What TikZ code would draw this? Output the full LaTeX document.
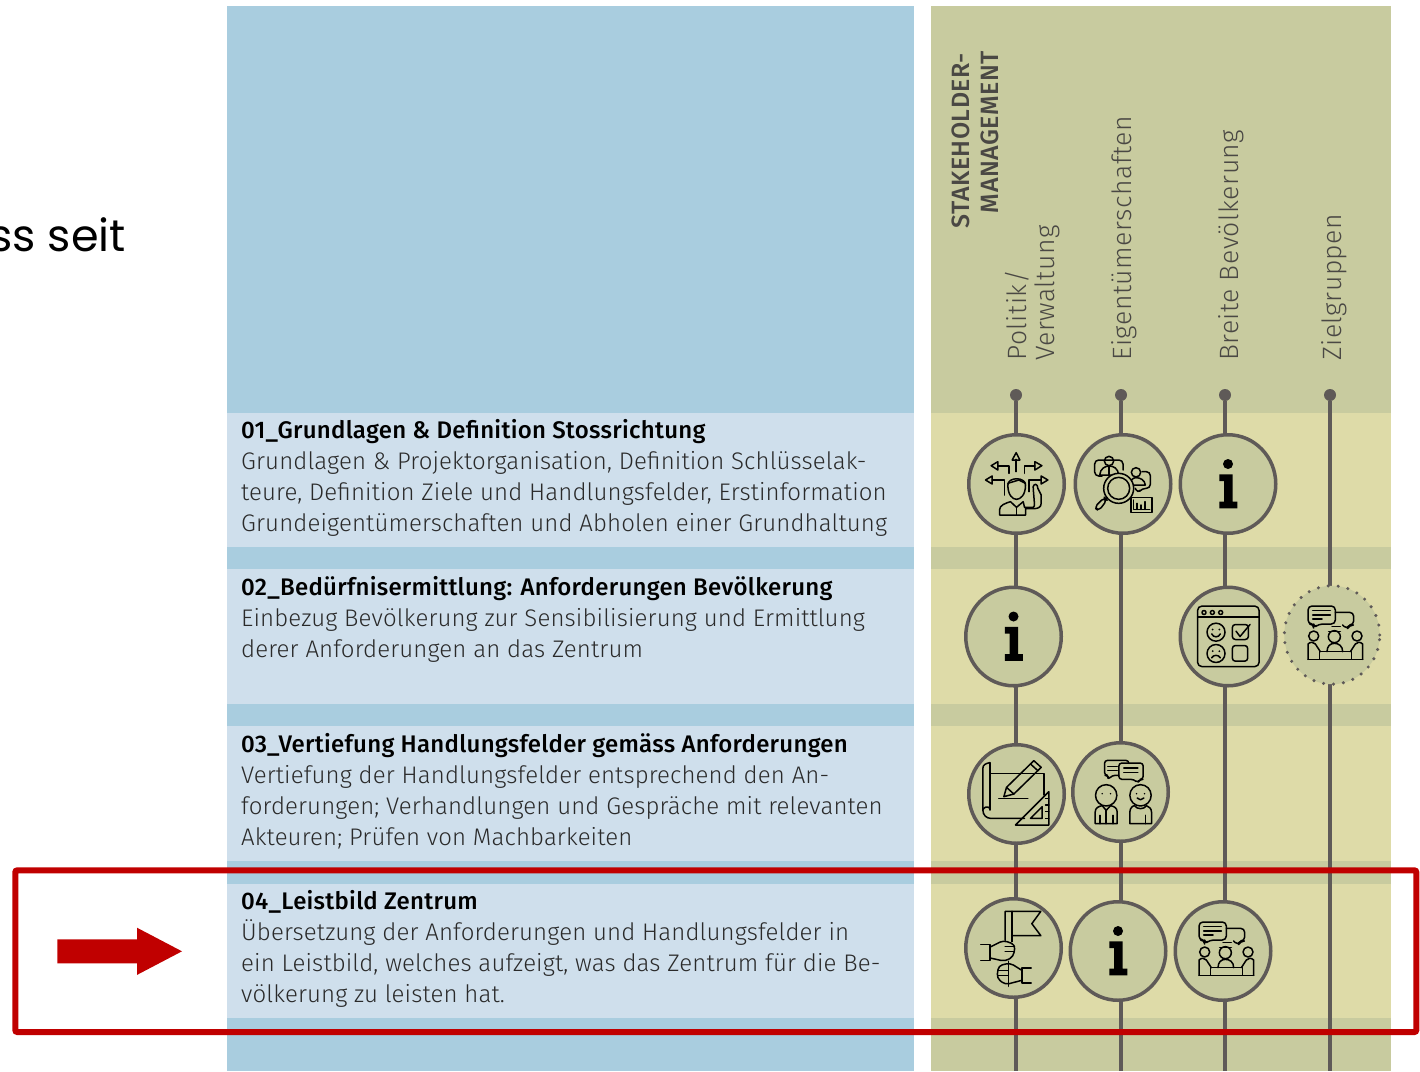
\documentclass[tikz,border=0pt]{standalone}
\usepackage{fontspec}
\usetikzlibrary{shapes.geometric}
\setmainfont{Fira Sans}[UprightFont=* Light,BoldFont=* Medium,LetterSpace=0.55]
\newfontfamily\headfont{Fira Sans}[UprightFont=* Medium,LetterSpace=1.1]
\newfontfamily\vfont{Fira Sans}[UprightFont=* Light,LetterSpace=2]
\newfontfamily\vheadfont{Fira Sans}[UprightFont=* Medium,LetterSpace=2]
\newfontfamily\seitfont{Poppins}
\definecolor{skyband}{HTML}{A9CDDF}
\definecolor{skylight}{HTML}{CFDFEC}
\definecolor{oliveband}{HTML}{C8CB9F}
\definecolor{olivelight}{HTML}{DEDBA8}
\definecolor{linegrey}{HTML}{5F5A58}
\definecolor{alertred}{HTML}{C00000}
\definecolor{txt}{HTML}{2A2A2A}
\definecolor{vgrey}{HTML}{4A4844}
\tikzset{
 x=1pt,y=-1pt,
 bodytxt/.style={anchor=base west,inner sep=0pt,font=\fontsize{24}{24}\selectfont,text=txt},
 headtxt/.style={anchor=base west,inner sep=0pt,font=\headfont\fontsize{24}{24}\selectfont,text=black},
 vtxt/.style={anchor=base west,inner sep=0pt,rotate=90,font=\vfont\fontsize{26.5}{26.5}\selectfont,text=vgrey},
 vhead/.style={anchor=base east,inner sep=0pt,rotate=90,font=\vheadfont\fontsize{25}{25}\selectfont,text=vgrey},
 vline/.style={draw=linegrey,line width=3.3pt},
 enddot/.style={circle,fill=linegrey,minimum size=12pt,inner sep=0pt},
 stake/.style={ellipse,draw=linegrey,line width=3.5pt,fill=oliveband,minimum width=95.5pt,minimum height=98.5pt,inner sep=0pt},
 stakedot/.style={ellipse,draw=linegrey,line width=3.4pt,line cap=round,dash pattern=on 0pt off 10pt,fill=oliveband,minimum width=95.5pt,minimum height=98.5pt,inner sep=0pt},
 ic/.style={draw=black,line width=1.5pt,line join=round,line cap=round},
 pics/infoicon/.style={code={
  \begin{scope}[x=.3333pt,y=-.3333pt,shift={(-834,-192)}]
   \fill[black] (834,132) circle (15);
   \fill[black] (808,163)--(848,163)--(848,245)--(862,245)--(862,265)--(808,265)--(808,245)--(822,245)--(822,183)--(808,183)--cycle;
  \end{scope}}},
 pics/choiceicon/.style={code={
  \begin{scope}[x=.3333pt,y=-.3333pt,shift={(-198,-192)},ic]
   \draw (197,155)--(197,118); \draw (185,120)--(208,120)--(197,98)--cycle;
   \draw (175,160)--(175,138)--(142,138); \draw (142,125)--(142,150)--(122,137)--cycle;
   \draw (222,160)--(222,138)--(253,138); \draw (253,125)--(253,150)--(274,137)--cycle;
   \draw (162,225)--(162,180)--(125,180); \draw (125,168)--(125,192)--(105,180)--cycle;
   \draw (235,215)--(235,180)--(272,180); \draw (272,168)--(272,192)--(292,180)--cycle;
   \draw (172,195) .. controls (172,170) and (225,170) .. (225,195) .. controls (225,225) and (210,238) .. (198,238) .. controls (186,238) and (172,225) .. (172,195);
   \draw (172,190)--(205,180)--(225,190);
   \draw (147,285)--(147,270) .. controls (147,255) and (165,250) .. (180,245)--(198,262)--(218,245)--(222,262)--(248,262) .. controls (255,262) and (250,240) .. (248,200) .. controls (250,190) and (262,190) .. (262,205) -- (272,225)--(272,250) .. controls (272,262) and (262,266) .. (250,266)--(225,266)--(225,285)--cycle;
   \draw (198,262)--(198,285);
  \end{scope}}},
 pics/searchicon/.style={code={
  \begin{scope}[x=.3333pt,y=-.3333pt,shift={(-518,-192)},ic]
   \draw[rounded corners=4pt] (455,168)--(433,168)--(433,120)--(518,120)--(518,150);
   \draw (476,123) circle (14);
   \draw (448,165) .. controls (450,145) and (465,138) .. (476,138) .. controls (490,138) and (503,145) .. (505,165)--cycle;
   \draw (476,140)--(476,165);
   \draw[rounded corners=4pt] (575,155)--(600,155)--(600,205)--(575,205)--(562,220)--(555,205);
   \draw (557,157) circle (14);
   \draw (538,195) .. controls (540,180) and (548,173) .. (557,173) .. controls (570,173) and (583,180) .. (585,195)--cycle;
   \fill[oliveband] (505,205) circle (45);
   \draw (505,205) circle (45);
   \draw (505,205) circle (33);
   \draw (470,232)--(462,240);
   \draw[rounded corners=4pt] (462,232)--(470,240)--(445,273)--(432,262)--cycle;
   \draw (542,232) rectangle (605,277);
   \draw (550,240)--(550,268)--(598,268);
   \draw (560,268)--(560,250) (572,268)--(572,255) (584,268)--(584,245);
  \end{scope}}},
 pics/feedbackicon/.style={code={
  \begin{scope}[x=.3333pt,y=-.3333pt,shift={(-834,-648)},ic]
   \draw[rounded corners=4pt] (743,557) rectangle (927,738);
   \draw (743,590)--(927,590);
   \draw (762,576) circle (6) (787,576) circle (6) (812,576) circle (6);
   \draw (798,635) circle (27);
   \draw (785,640) .. controls (790,652) and (806,652) .. (811,640);
   \fill (788,627) circle (3) (808,627) circle (3);
   \draw[rounded corners=3pt] (847,612) rectangle (895,657);
   \draw (858,632)--(870,648)--(900,612);
   \draw (798,699) circle (27);
   \draw (785,712) .. controls (790,702) and (806,702) .. (811,712);
   \fill (788,692) circle (3) (808,692) circle (3);
   \draw[rounded corners=3pt] (847,675) rectangle (893,722);
  \end{scope}}},
 pics/meetingicon/.style={code={
  \begin{scope}[x=.3333pt,y=-.3333pt,shift={(-1140,-645)},ic]
   \draw[rounded corners=4pt] (1085,612)--(1068,612)--(1068,558)--(1150,558)--(1150,612)--(1100,612)--(1085,624)--cycle;
   \draw (1082,572)--(1135,572) (1082,585)--(1135,585) (1082,597)--(1110,597);
   \draw[rounded corners=4pt] (1150,577)--(1205,577)--(1205,615)--(1192,615)--(1185,628)--(1172,615);
   \draw (1140,620)--(1165,620);
   \draw (1147,650) circle (18);
   \draw (1130,635)--(1165,635);
   \draw (1085,648) circle (15);
   \draw (1215,648) circle (15);
   \draw (1125,695) .. controls (1125,678) and (1135,670) .. (1147,670) .. controls (1160,670) and (1172,678) .. (1172,695);
   \draw (1068,718)--(1068,672) .. controls (1075,665) and (1085,665) .. (1090,672)--(1105,695);
   \draw (1232,718)--(1232,672) .. controls (1225,665) and (1215,665) .. (1210,672)--(1195,695);
   \draw (1103,695) rectangle (1198,718);
   \draw (1068,718)--(1232,718);
  \end{scope}}},
 pics/planicon/.style={code={
  \begin{scope}[x=.3333pt,y=-.3333pt,shift={(-198,-192)},ic]
   \draw (118,130)--(280,130)--(280,195);
   \draw (118,98)--(118,240);
   \draw (118,98) .. controls (105,100) and (97,105) .. (97,115)--(97,240) .. controls (97,255) and (108,265) .. (120,265)--(222,265);
   \draw (97,240) .. controls (100,230) and (112,228) .. (118,235);
   \draw (145,205)--(232,205);
   \draw (160,200)--(168,172)--(250,92)--(272,112)--(190,192)--cycle;
   \draw (168,172)--(190,192);
   \draw (240,102)--(262,122);
   \draw (195,285)--(295,185)--(295,285)--cycle;
   \draw (240,265)--(275,230)--(275,265)--cycle;
   \draw (285,205)--(295,205) (285,225)--(295,225) (285,245)--(295,245) (285,265)--(295,265);
  \end{scope}}},
 pics/talkicon/.style={code={
  \begin{scope}[x=.3333pt,y=-.3333pt,shift={(-510,-185)},ic]
   \draw[rounded corners=3pt] (505,135)--(485,135)--(473,148)--(473,135)--(462,135)--(462,90)--(535,90)--(535,98);
   \draw[rounded corners=3pt] (505,98)--(578,98)--(578,147)--(568,147)--(562,158)--(550,147)--(505,147)--cycle;
   \draw (472,108)--(500,108) (472,120)--(500,120);
   \draw (520,113)--(562,113) (520,127)--(562,127);
   \draw (467,195) circle (32);
   \fill (455,190) circle (2.5) (480,190) circle (2.5);
   \draw (434,280)--(434,245) .. controls (434,232) and (445,228) .. (455,226)--(467,240)--(480,226) .. controls (490,228) and (500,232) .. (500,245)--(500,280)--cycle;
   \draw (467,240)--(467,280);
   \draw (448,255)--(448,280) (487,255)--(487,280);
   \draw (570,195) circle (32);
   \fill (558,190) circle (2.5) (582,190) circle (2.5);
   \draw (560,203) .. controls (565,210) and (575,210) .. (580,203);
   \draw (538,280)--(538,245) .. controls (538,232) and (548,226) .. (552,226) .. controls (560,238) and (580,238) .. (588,226) .. controls (595,228) and (603,235) .. (603,245)--(603,280)--cycle;
   \draw (585,255)--(585,280);
  \end{scope}}},
 pics/flagicon/.style={code={
  \begin{scope}[x=.3333pt,y=-.3333pt,shift={(-190,-655)},ic]
   \draw (165,632)--(165,545)--(272,545)--(245,582)--(272,618)--(185,618);
   \draw (185,545)--(185,636);
   \draw (92,645)--(120,645)--(120,692)--(92,692);
   \draw[rounded corners=4pt] (120,652)--(160,632)--(195,645)--(190,680)--(165,695)--(120,685);
   \draw (165,650)--(193,650) (165,665)--(191,665);
   \draw (243,715)--(215,715)--(215,760)--(243,760);
   \draw[rounded corners=4pt] (215,722)--(180,700)--(145,708)--(140,745)--(165,765)--(215,752);
   \draw (145,722)--(172,722) (145,738)--(172,738);
   \draw (175,695)--(175,770);
  \end{scope}}}
}
\begin{document}
\begin{tikzpicture}
\useasboundingbox (0,0) rectangle (1420,1071);
\clip (0,0) rectangle (1420,1071);
% backgrounds
\fill[skyband] (227,6) rectangle (914,1071);
\fill[oliveband] (931,6) rectangle (1391,1071);
\foreach \a/\b in {413/547,569/704,726/861,884/1018}{
 \fill[skylight] (227,\a) rectangle (914,\b);
 \fill[olivelight] (931,\a) rectangle (1391,\b);
}
% vertical lines
\node[enddot] (d1) at (1016,395) {};
\node[enddot] (d2) at (1121,395) {};
\node[enddot] (d3) at (1225,395) {};
\node[enddot] (d4) at (1330,395) {};
\coordinate (e1) at (1016,1071);
\coordinate (e2) at (1121,1071);
\coordinate (e3) at (1225,1071);
\coordinate (e4) at (1330,1071);
\draw[vline] (d1)--(e1);
\draw[vline] (d2)--(e2);
\draw[vline] (d3)--(e3);
\draw[vline] (d4)--(e4);
% stakeholder circles
\node[stake] (a1) at (1016.5,484) {}; \pic at (a1) {choiceicon};
\node[stake] (a2) at (1123,484) {}; \pic at (a2) {searchicon};
\node[stake] (a3) at (1228,484) {}; \pic at (a3) {infoicon};
\node[stake] (b1) at (1013.5,636.5) {}; \pic at (b1) {infoicon};
\node[stake] (b3) at (1228,636.5) {}; \pic at (b3) {feedbackicon};
\node[stakedot] (b4) at (1332,635) {}; \pic at (b4) {meetingicon};
\node[stake] (c1) at (1016.5,794) {}; \pic at (c1) {planicon};
\node[stake] (c2) at (1120.5,792) {}; \pic at (c2) {talkicon};
\node[stake] (f1) at (1013.5,948) {}; \pic at (f1) {flagicon};
\node[stake] (f2) at (1118,951) {}; \pic at (f2) {infoicon};
\node[stake] (f3) at (1223,951) {}; \pic at (f3) {meetingicon};
% left texts
\node[headtxt] (t1) at (241,438) {01\_Grundlagen \& Definition Stossrichtung};
\node[bodytxt] (t1a) at (241,469) {Grundlagen \& Projektorganisation, Definition Schlüsselak-};
\node[bodytxt] (t1b) at (241,500) {teure, Definition Ziele und Handlungsfelder, Erstinformation};
\node[bodytxt] (t1c) at (241,531) {Grundeigentümerschaften und Abholen einer Grundhaltung};
\node[headtxt] (t2) at (241,595) {02\_Bedürfnisermittlung: Anforderungen Bevölkerung};
\node[bodytxt] (t2a) at (241,626) {Einbezug Bevölkerung zur Sensibilisierung und Ermittlung};
\node[bodytxt] (t2b) at (241,657) {derer Anforderungen an das Zentrum};
\node[headtxt] (t3) at (241,752) {03\_Vertiefung Handlungsfelder gemäss Anforderungen};
\node[bodytxt] (t3a) at (241,783) {Vertiefung der Handlungsfelder entsprechend den An-};
\node[bodytxt] (t3b) at (241,814) {forderungen; Verhandlungen und Gespräche mit relevanten};
\node[bodytxt] (t3c) at (241,845) {Akteuren; Prüfen von Machbarkeiten};
\node[headtxt] (t4) at (241,909) {04\_Leistbild Zentrum};
\node[bodytxt] (t4a) at (241,940) {Übersetzung der Anforderungen und Handlungsfelder in};
\node[bodytxt] (t4b) at (241,971) {ein Leistbild, welches aufzeigt, was das Zentrum für die Be-};
\node[bodytxt] (t4c) at (241,1002) {völkerung zu leisten hat.};
% rotated
\node[vhead] (s1) at (969.3,53) {STAKEHOLDER-};
\node[vhead] (s2) at (998.3,51) {MANAGEMENT};
\node[vtxt] (v1) at (1026.6,361) {Politik/};
\node[vtxt] (v2) at (1054.3,361) {Verwaltung};
\node[vtxt] (v3) at (1131,361) {Eigentümerschaften};
\node[vtxt] (v4) at (1238,361) {Breite Bevölkerung};
\node[vtxt] (v5) at (1341.7,361) {Zielgruppen};
% cut-off title
\node[anchor=base east,inner sep=0pt,font=\seitfont\fontsize{44.5}{44.5}\selectfont,text=black] (seit) at (126,251) {ss seit};
% red frame and arrow
\node[draw=alertred,line width=6pt,rounded corners=2pt,minimum width=1401pt,minimum height=161.7pt,inner sep=0pt,anchor=north west] (frame) at (12.3,867.3) {};
\coordinate (ar) at (57.3,951.3);
\fill[alertred] (ar) ++(0,-12) -- ++(79.7,0) -- ++(0,-11.6) -- ++(45,23.6) -- ++(-45,23.6) -- ++(0,-11.6) -- ++(-79.7,0) -- cycle;
\end{tikzpicture}
\end{document}
